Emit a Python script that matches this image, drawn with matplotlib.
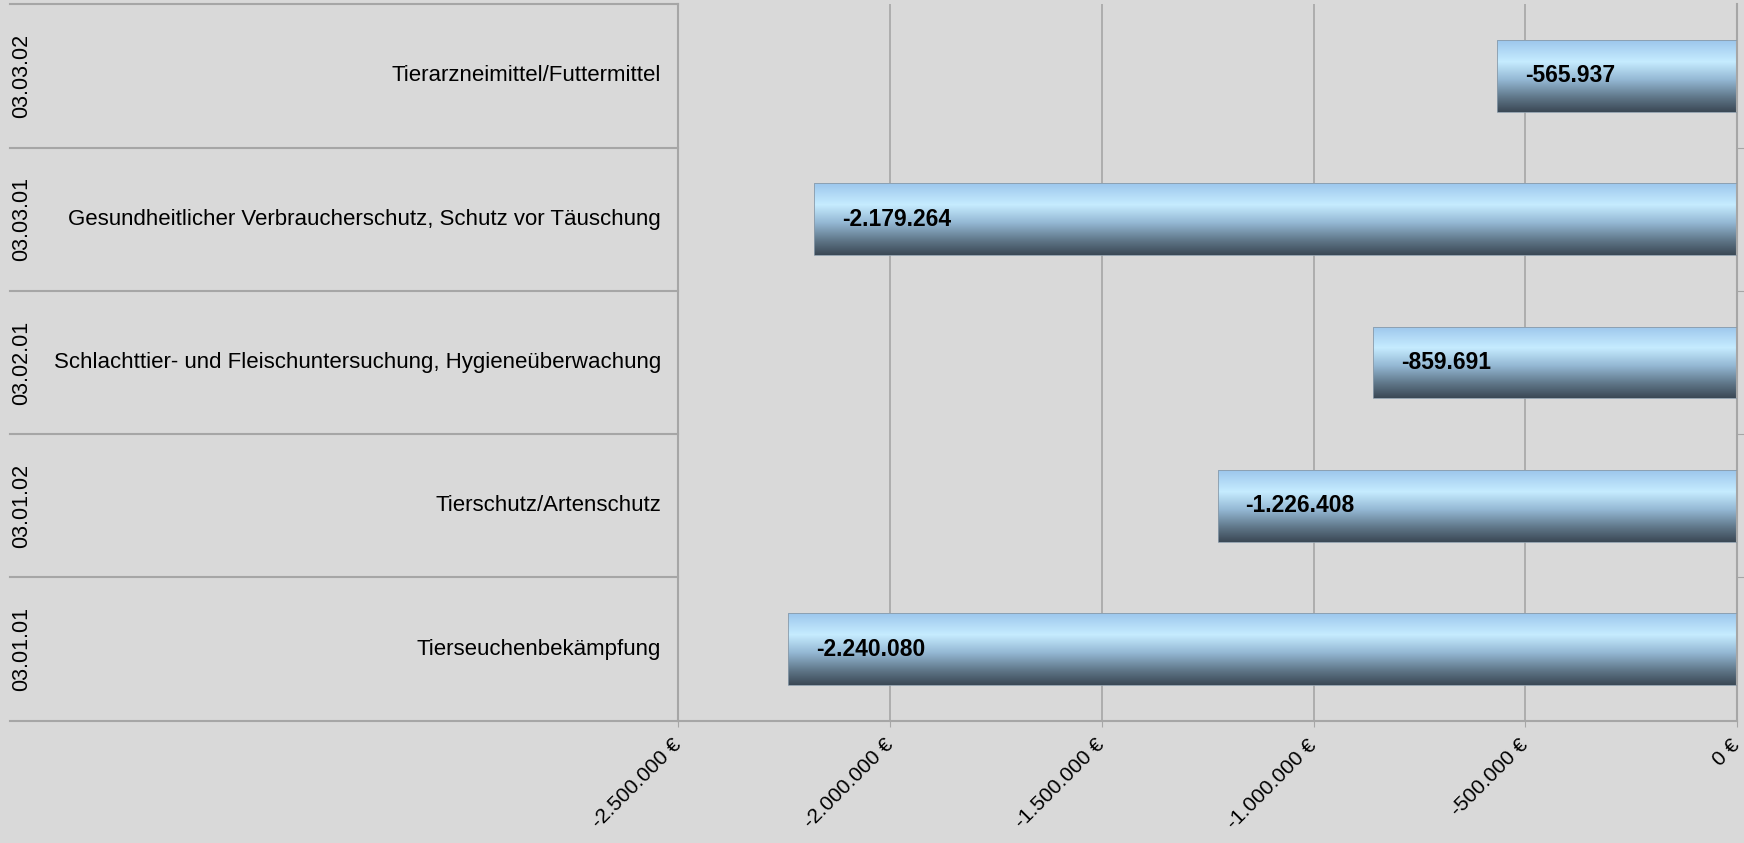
import numpy as np
import matplotlib
matplotlib.use("Agg")
from matplotlib import pyplot as plt
from matplotlib import transforms
from matplotlib.colors import LinearSegmentedColormap
from matplotlib.patches import Rectangle

plt.rcParams['font.family'] = ['Liberation Sans', 'DejaVu Sans']

# data (bottom to top)
codes = ['03.01.01', '03.01.02', '03.02.01', '03.03.01', '03.03.02']
names = ['Tierseuchenbekämpfung',
         'Tierschutz/Artenschutz',
         'Schlachttier- und Fleischuntersuchung, Hygieneüberwachung',
         'Gesundheitlicher Verbraucherschutz, Schutz vor Täuschung',
         'Tierarzneimittel/Futtermittel']
values = [-2240080, -1226408, -859691, -2179264, -565937]
xticks = [-2500000, -2000000, -1500000, -1000000, -500000, 0]
xticklabels = ['-2.500.000 €', '-2.000.000 €', '-1.500.000 €',
               '-1.000.000 €', '-500.000 €', '0 €']

bg = '#d9d9d9'
grid = '#a6a6a6'

fig = plt.figure(figsize=(17.44, 8.43), dpi=100, facecolor=bg)
ax = fig.add_axes([0.389, 0.145, 0.607, 0.85], facecolor=bg)

ax.set_xlim(-2500000, 0)
ax.set_ylim(-0.5, len(values) - 0.5)

# gradient for the bars: light blue top, highlight, dark slate bottom
cmap = LinearSegmentedColormap.from_list('bar', [
    (0.0, '#9cc6ec'), (0.3, '#c6ecff'), (0.55, '#94b8d4'),
    (0.8, '#5f7688'), (1.0, '#3b4855')])
grad = np.linspace(0, 1, 256).reshape(-1, 1)

h = 0.5
for i, v in enumerate(values):
    rect = Rectangle((v, i - h / 2), -v, h, facecolor='none',
                     edgecolor='#8a9aa8', linewidth=0.6, zorder=3)
    ax.add_patch(rect)
    im = ax.imshow(grad, cmap=cmap, aspect='auto',
                   extent=(v, 0, i - h / 2, i + h / 2), zorder=2)
    im.set_clip_path(rect)
    lab = '{:,}'.format(v).replace(',', '.')
    ax.annotate(lab, (v, i), xytext=(20, 0), textcoords='offset points',
                ha='left', va='center', fontsize=16.5, fontweight='bold',
                color='black', zorder=4)

ax.set_xticks(xticks)
ax.set_xticklabels(xticklabels, rotation=45, ha='right', va='center',
                   rotation_mode='anchor', fontsize=15)
ax.tick_params(axis='x', length=4.5, color=grid, pad=11)
ax.grid(axis='x', color=grid, linewidth=1.2, zorder=1)
ax.set_axisbelow(True)

ax.set_yticks([k + 0.5 for k in range(len(values) - 1)])
ax.set_yticklabels([])
ax.tick_params(axis='y', left=False, right=True, length=5, color=grid)

for s in ['top', 'left']:
    ax.spines[s].set_visible(False)
for s in ['bottom', 'right']:
    ax.spines[s].set_color(grid)
    ax.spines[s].set_linewidth(1.5)

# category area to the left of the plot
tr = transforms.blended_transform_factory(fig.transFigure, ax.transData)
x0, x1 = 0.006, 0.389
for k in range(len(values) + 1):
    ax.plot([x0, x1], [k - 0.5, k - 0.5], transform=tr, color=grid,
            linewidth=1.5, clip_on=False)
ax.plot([x1, x1], [-0.5, len(values) - 0.5], transform=tr, color=grid,
        linewidth=1.5, clip_on=False)

for i, (c, n) in enumerate(zip(codes, names)):
    ax.text(0.0125, i, c, transform=tr, rotation=90, ha='center',
            va='center', fontsize=15.5)
    ax.text(0.379, i, n, transform=tr, ha='right', va='center',
            fontsize=16)

fig.savefig('out.png', dpi=100, facecolor=bg)
